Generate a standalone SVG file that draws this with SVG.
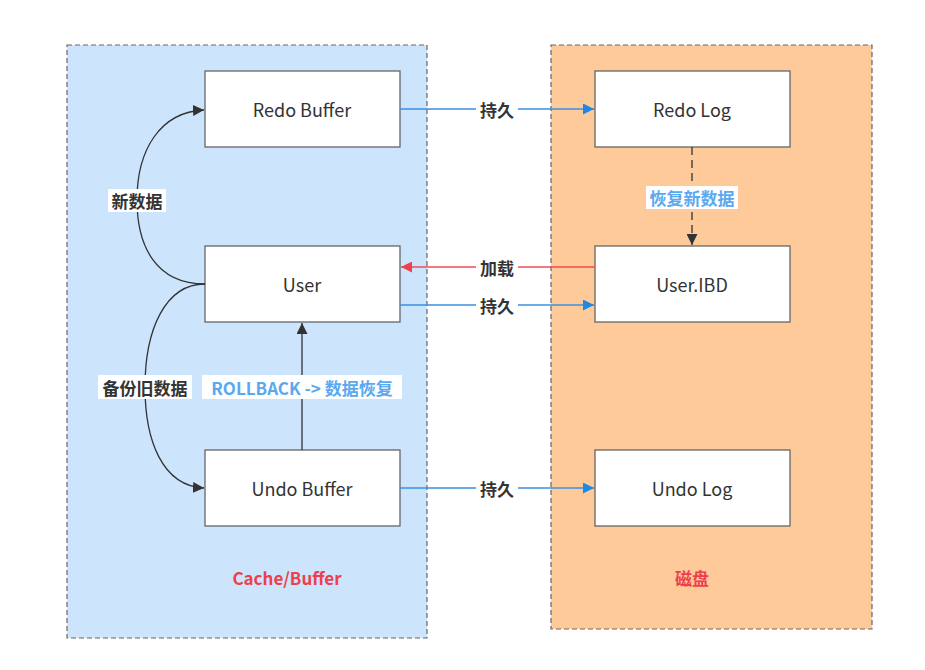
<svg xmlns="http://www.w3.org/2000/svg" width="925" height="670" viewBox="0 0 925 670">
<style>
.box{fill:#fff;stroke:#666;stroke-width:1.3}
.lbl{font-family:"Noto Sans CJK SC","Noto Sans",sans-serif;font-size:18px;fill:#333;text-anchor:middle;dominant-baseline:central}
.el{font-family:"Noto Sans CJK SC","Noto Sans",sans-serif;font-size:17px;font-weight:bold;text-anchor:middle;dominant-baseline:central}
.dk{fill:#333}
.bl{fill:#5aa9f0}
.rd{fill:#ee3f4d}
.cont{stroke:#666;stroke-width:1.2;stroke-dasharray:5 3}
</style>
<defs>
<marker id="ab" viewBox="0 0 10 10" refX="10" refY="5" markerWidth="11" markerHeight="11" markerUnits="userSpaceOnUse" orient="auto"><path d="M0,0 L10,5 L0,10 z" fill="#1e88e5"/></marker>
<marker id="ar" viewBox="0 0 10 10" refX="10" refY="5" markerWidth="11" markerHeight="11" markerUnits="userSpaceOnUse" orient="auto"><path d="M0,0 L10,5 L0,10 z" fill="#ee3f4d"/></marker>
<marker id="ak" viewBox="0 0 10 10" refX="10" refY="5" markerWidth="11" markerHeight="11" markerUnits="userSpaceOnUse" orient="auto"><path d="M0,0 L10,5 L0,10 z" fill="#333"/></marker>
</defs>
<rect width="925" height="670" fill="#fff"/>
<g id="cache">
<rect class="cont" x="67" y="45" width="360" height="593" fill="#cce5fc"/>
<text class="el rd" x="287" y="577">Cache/Buffer</text>
</g>
<g id="disk">
<rect class="cont" x="551" y="45" width="321" height="584" fill="#ffca99"/>
<text class="el rd" x="692" y="577">磁盘</text>
</g>
<g id="redo-buffer"><rect class="box" x="205" y="71" width="195" height="76"/><text class="lbl" x="302" y="109">Redo Buffer</text></g>
<g id="user"><rect class="box" x="205" y="246" width="195" height="76"/><text class="lbl" x="302" y="284">User</text></g>
<g id="undo-buffer"><rect class="box" x="205" y="450" width="195" height="76"/><text class="lbl" x="302" y="488">Undo Buffer</text></g>
<g id="redo-log"><rect class="box" x="595" y="71" width="195" height="76"/><text class="lbl" x="692" y="109">Redo Log</text></g>
<g id="user-ibd"><rect class="box" x="595" y="246" width="195" height="76"/><text class="lbl" x="692" y="284">User.IBD</text></g>
<g id="undo-log"><rect class="box" x="595" y="450" width="195" height="76"/><text class="lbl" x="692" y="488">Undo Log</text></g>
<g id="connectors" fill="none" stroke-width="1.3">
<path d="M400,109 L594,109" stroke="#3d8fe0" marker-end="url(#ab)"/>
<path d="M595,267 L401,267" stroke="#ee4d55" marker-end="url(#ar)"/>
<path d="M400,305 L594,305" stroke="#3d8fe0" marker-end="url(#ab)"/>
<path d="M400,488 L594,488" stroke="#3d8fe0" marker-end="url(#ab)"/>
<path d="M692,147 L692,245" stroke="#333" stroke-dasharray="8 5" marker-end="url(#ak)"/>
<path d="M302,450 L302,323" stroke="#333" marker-end="url(#ak)"/>
<path d="M205,284 C155,284 137,245 137,200 C137,150 160,112 204,110" stroke="#333" marker-end="url(#ak)"/>
<path d="M205,284 C165,284 145,330 145,387 C145,440 162,486 204,488" stroke="#333" marker-end="url(#ak)"/>
<rect x="476" y="98" width="42" height="22" fill="#fff"/><text class="el dk" x="497" y="109">持久</text>
<rect x="476" y="256" width="42" height="22" fill="#fff"/><text class="el dk" x="497" y="267">加载</text>
<rect x="476" y="294" width="42" height="22" fill="#fff"/><text class="el dk" x="497" y="305">持久</text>
<rect x="476" y="477" width="42" height="22" fill="#fff"/><text class="el dk" x="497" y="488">持久</text>
<rect x="646" y="186" width="92" height="23" fill="#fff"/><text class="el bl" x="692" y="197">恢复新数据</text>
<rect x="202" y="375" width="200" height="24" fill="#fff"/><text class="el bl" x="302" y="387">ROLLBACK -&gt; 数据恢复</text>
<rect x="108" y="189" width="58" height="23" fill="#fff"/><text class="el dk" x="137" y="200">新数据</text>
<rect x="98" y="375" width="94" height="24" fill="#fff"/><text class="el dk" x="145" y="387">备份旧数据</text>
</g>
</svg>
